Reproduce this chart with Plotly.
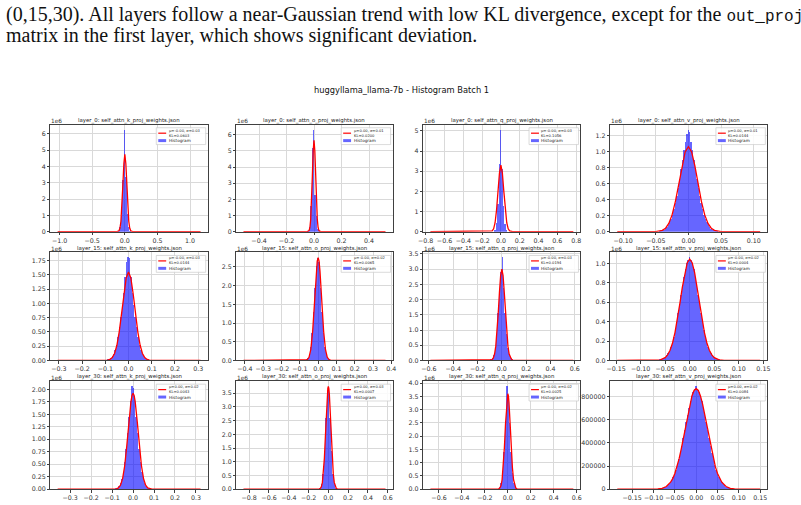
import plotly.graph_objects as go

W, H = 801, 505

# ---------------- text ----------------
intro_line1 = "(0,15,30). All layers follow a near-Gaussian trend with low KL divergence, except for the "
intro_code = "out_proj"
intro_line2 = "matrix in the first layer, which shows significant deviation."
suptitle = "huggyllama_llama-7b - Histogram Batch 1"

titles = [
    "layer_0: self_attn_k_proj_weights.json", "layer_0: self_attn_o_proj_weights.json",
    "layer_0: self_attn_q_proj_weights.json", "layer_0: self_attn_v_proj_weights.json",
    "layer_15: self_attn_k_proj_weights.json", "layer_15: self_attn_o_proj_weights.json",
    "layer_15: self_attn_q_proj_weights.json", "layer_15: self_attn_v_proj_weights.json",
    "layer_30: self_attn_k_proj_weights.json", "layer_30: self_attn_o_proj_weights.json",
    "layer_30: self_attn_q_proj_weights.json", "layer_30: self_attn_v_proj_weights.json",
]
fit_stats = ["μ=-0.00, σ=0.03", "μ=0.00, σ=0.01", "μ=-0.00, σ=0.03", "μ=0.00, σ=0.01",
             "μ=-0.00, σ=0.03", "μ=-0.00, σ=0.02", "μ=-0.00, σ=0.03", "μ=-0.00, σ=0.02",
             "μ=0.00, σ=0.02", "μ=0.00, σ=0.03", "μ=-0.00, σ=0.02", "μ=0.00, σ=0.02"]
fit_kl = ["KL=0.0603", "KL=0.0200", "KL=0.1056", "KL=0.0144",
          "KL=0.0144", "KL=0.0065", "KL=0.0194", "KL=0.0004",
          "KL=0.0043", "KL=0.0007", "KL=0.0025", "KL=0.0084"]

# ---------------- data (counts in millions) ----------------
# layer_0 k
l0k_range = [-1.03, 1.16]
l0k_bin = 0.022
l0k_start = -0.088
l0k_counts = [0.05, 0.3, 1.0, 3.2, 6.25, 3.4, 1.1, 0.3, 0.05]
l0k_fit_x = [-1.03, -0.12, -0.09, -0.075, -0.06, -0.045, -0.03, -0.015, 0.0, 0.015, 0.03, 0.045, 0.06, 0.075, 0.09, 0.12, 1.16]
l0k_fit_y = [0, 0.005, 0.053, 0.21, 0.64, 1.54, 2.88, 4.19, 4.75, 4.19, 2.88, 1.54, 0.64, 0.21, 0.053, 0.005, 0]
# layer_0 o
l0o_range = [-0.513, 0.52]
l0o_bin = 0.0103
l0o_start = -0.0412
l0o_counts = [0.05, 0.3, 1.6, 5.2, 6.3, 2.3, 1.0, 0.2, 0.05]
l0o_fit_x = [-0.513, -0.048, -0.036, -0.03, -0.024, -0.018, -0.012, -0.006, 0.0, 0.006, 0.012, 0.018, 0.024, 0.03, 0.036, 0.048, 0.52]
l0o_fit_y = [0, 0.002, 0.063, 0.248, 0.76, 1.83, 3.43, 4.99, 5.65, 4.99, 3.43, 1.83, 0.76, 0.248, 0.063, 0.002, 0]
# layer_0 q
l0q_range = [-0.75, 0.77]
l0q_bin = 0.0152
l0q_start = -0.076
l0q_counts = [0.02, 0.1, 0.45, 1.4, 3.35, 5.05, 3.1, 1.3, 0.4, 0.1, 0.02]
l0q_fit_x = [-0.75, -0.124, -0.093, -0.0775, -0.062, -0.0465, -0.031, -0.0155, 0.0, 0.0155, 0.031, 0.0465, 0.062, 0.0775, 0.093, 0.124, 0.77]
l0q_fit_y = [0, 0.001, 0.037, 0.145, 0.446, 1.07, 2.0, 2.91, 3.3, 2.91, 2.0, 1.07, 0.446, 0.145, 0.037, 0.001, 0]
# layer_0 v
l0v_range = [-0.109, 0.110]
l0v_bin = 0.00219
l0v_start = -0.04599
l0v_counts = [0.004, 0.007, 0.011, 0.018, 0.028, 0.042, 0.06, 0.085, 0.12, 0.16, 0.21, 0.28, 0.36, 0.45,
              0.55, 0.66, 0.78, 0.90, 1.02, 1.12, 1.22, 1.27, 1.25, 1.12, 1.02, 0.90, 0.78, 0.66, 0.55,
              0.45, 0.36, 0.28, 0.21, 0.16, 0.12, 0.085, 0.06, 0.042, 0.028, 0.018, 0.011, 0.007, 0.004]
l0v_fit_x = [-0.109, -0.05, -0.04, -0.035, -0.03, -0.025, -0.02, -0.015, -0.01, -0.005, 0.0,
             0.005, 0.01, 0.015, 0.02, 0.025, 0.03, 0.035, 0.04, 0.05, 0.110]
l0v_fit_y = [0, 0.0016, 0.017, 0.044, 0.103, 0.21, 0.376, 0.592, 0.818, 0.994, 1.06,
             0.994, 0.818, 0.592, 0.376, 0.21, 0.103, 0.044, 0.017, 0.0016, 0]
# layer_15 k
l15k_range = [-0.305, 0.31]
l15k_bin = 0.00615
l15k_start = -0.09225
l15k_counts = [0.004, 0.008, 0.019, 0.035, 0.062, 0.105, 0.17, 0.27, 0.40, 0.57, 0.75, 0.97, 1.18, 1.45, 1.72,
               1.80, 1.78, 1.45, 1.18, 0.97, 0.75, 0.57, 0.40, 0.27, 0.17, 0.105, 0.062, 0.035, 0.019, 0.008, 0.004]
l15k_fit_x = [-0.305, -0.1, -0.09, -0.08, -0.07, -0.06, -0.05, -0.04, -0.03, -0.02, -0.01, 0.0,
              0.01, 0.02, 0.03, 0.04, 0.05, 0.06, 0.07, 0.08, 0.09, 0.1, 0.31]
l15k_fit_y = [0, 0.001, 0.005, 0.017, 0.049, 0.122, 0.265, 0.500, 0.821, 1.168, 1.444, 1.55,
              1.444, 1.168, 0.821, 0.500, 0.265, 0.122, 0.049, 0.017, 0.005, 0.001, 0]
# layer_15 o
l15o_range = [-0.408, 0.368]
l15o_bin = 0.00776
l15o_start = -0.06984
l15o_counts = [0.005, 0.015, 0.05, 0.14, 0.34, 0.71, 1.27, 1.92, 2.5, 2.72, 2.62, 1.92, 1.27, 0.71, 0.34, 0.14, 0.05, 0.015, 0.005]
l15o_fit_x = [-0.408, -0.07, -0.06, -0.05, -0.04, -0.03, -0.02, -0.01, -0.005, 0.0, 0.005, 0.01, 0.02, 0.03, 0.04, 0.05, 0.06, 0.07, 0.368]
l15o_fit_y = [0, 0.003, 0.018, 0.083, 0.293, 0.78, 1.57, 2.39, 2.655, 2.75, 2.655, 2.39, 1.57, 0.78, 0.293, 0.083, 0.018, 0.003, 0]
# layer_15 q
l15q_range = [-0.588, 0.588]
l15q_bin = 0.01165
l15q_start = -0.099
l15q_counts = [0.005, 0.015, 0.05, 0.16, 0.40, 0.85, 1.55, 2.3, 2.88, 3.38, 2.35, 1.55, 0.85, 0.40, 0.16, 0.05, 0.015, 0.005]
l15q_fit_x = [-0.588, -0.1, -0.09, -0.08, -0.07, -0.06, -0.05, -0.04, -0.03, -0.02, -0.01, 0.0,
              0.01, 0.02, 0.03, 0.04, 0.05, 0.06, 0.07, 0.08, 0.09, 0.1, 0.588]
l15q_fit_y = [0, 0.002, 0.0075, 0.026, 0.080, 0.209, 0.47, 0.92, 1.54, 2.23, 2.79, 3.0,
              2.79, 2.23, 1.54, 0.92, 0.47, 0.209, 0.080, 0.026, 0.0075, 0.002, 0]
# layer_15 v
l15v_range = [-0.1475, 0.1435]
l15v_bin = 0.00291
l15v_start = -0.06984
l15v_counts = [0.001, 0.002, 0.003, 0.005, 0.008, 0.013, 0.020, 0.031, 0.046, 0.068, 0.096, 0.134, 0.181, 0.240,
               0.310, 0.390, 0.480, 0.576, 0.674, 0.771, 0.860, 0.937, 0.995, 1.033, 1.06, 1.033, 0.995, 0.937,
               0.860, 0.771, 0.674, 0.576, 0.480, 0.390, 0.310, 0.240, 0.181, 0.134, 0.096, 0.068, 0.046, 0.031,
               0.020, 0.013, 0.008, 0.005, 0.003, 0.002, 0.001]
l15v_fit_x = [-0.1475, -0.07, -0.06, -0.05, -0.045, -0.04, -0.035, -0.03, -0.025, -0.02, -0.015, -0.01, -0.005, 0.0,
              0.005, 0.01, 0.015, 0.02, 0.025, 0.03, 0.035, 0.04, 0.045, 0.05, 0.06, 0.07, 0.1435]
l15v_fit_y = [0, 0.001, 0.006, 0.029, 0.057, 0.105, 0.180, 0.287, 0.426, 0.588, 0.756, 0.905, 1.008, 1.045,
              1.008, 0.905, 0.756, 0.588, 0.426, 0.287, 0.180, 0.105, 0.057, 0.029, 0.006, 0.001, 0]
# layer_30 k
l30k_range = [-0.36, 0.322]
l30k_bin = 0.00682
l30k_start = -0.09207
l30k_counts = [0.002, 0.005, 0.012, 0.026, 0.055, 0.11, 0.20, 0.34, 0.54, 0.80, 1.12, 1.45, 1.76, 2.06,
               2.02, 1.80, 1.45, 1.12, 0.80, 0.54, 0.34, 0.20, 0.11, 0.055, 0.026, 0.012, 0.005, 0.002]
l30k_fit_x = [-0.36, -0.09, -0.08, -0.07, -0.06, -0.05, -0.04, -0.03, -0.02, -0.01, -0.005, 0.0,
              0.005, 0.01, 0.02, 0.03, 0.04, 0.05, 0.06, 0.07, 0.08, 0.09, 0.322]
l30k_fit_y = [0, 0.0015, 0.0067, 0.025, 0.080, 0.211, 0.468, 0.868, 1.349, 1.758, 1.878, 1.92,
              1.878, 1.758, 1.349, 0.868, 0.468, 0.211, 0.080, 0.025, 0.0067, 0.0015, 0]
# layer_30 o
l30o_range = [-0.858, 0.578]
l30o_bin = 0.01436
l30o_start = -0.09334
l30o_counts = [0.008, 0.04, 0.17, 0.55, 1.40, 2.6, 3.62, 3.70, 2.6, 1.40, 0.55, 0.17, 0.04, 0.008]
l30o_fit_x = [-0.858, -0.1, -0.09, -0.08, -0.07, -0.06, -0.05, -0.04, -0.03, -0.02, -0.01, -0.005, 0.0,
              0.005, 0.01, 0.02, 0.03, 0.04, 0.05, 0.06, 0.07, 0.08, 0.09, 0.1, 0.578]
l30o_fit_y = [0, 0.002, 0.008, 0.030, 0.092, 0.246, 0.565, 1.12, 1.90, 2.77, 3.48, 3.68, 3.75,
              3.68, 3.48, 2.77, 1.90, 1.12, 0.565, 0.246, 0.092, 0.030, 0.008, 0.002, 0]
# layer_30 q
l30q_range = [-0.675, 0.571]
l30q_bin = 0.01245
l30q_start = -0.093375
l30q_counts = [0.004, 0.015, 0.06, 0.21, 0.60, 1.40, 2.5, 3.88, 3.5, 2.5, 1.40, 0.60, 0.21, 0.06, 0.015, 0.004]
l30q_fit_x = [-0.675, -0.09, -0.08, -0.07, -0.06, -0.05, -0.04, -0.03, -0.02, -0.01, -0.005, 0.0,
              0.005, 0.01, 0.02, 0.03, 0.04, 0.05, 0.06, 0.07, 0.08, 0.09, 0.571]
l30q_fit_y = [0, 0.002, 0.0094, 0.038, 0.127, 0.353, 0.814, 1.56, 2.48, 3.28, 3.52, 3.6,
              3.52, 3.28, 2.48, 1.56, 0.814, 0.353, 0.127, 0.038, 0.0094, 0.002, 0]
# layer_30 v
l30v_range = [-0.185, 0.15]
l30v_bin = 0.00336
l30v_start = -0.09408
l30v_counts = [0.001, 0.0018, 0.0028, 0.0044, 0.0067, 0.010, 0.015, 0.021, 0.030, 0.042, 0.057, 0.077, 0.101, 0.131,
               0.167, 0.210, 0.259, 0.314, 0.375, 0.440, 0.508, 0.576, 0.643, 0.705, 0.760, 0.807, 0.841, 0.863,
               0.89,
               0.863, 0.841, 0.807, 0.760, 0.705, 0.643, 0.576, 0.508, 0.440, 0.375, 0.314, 0.259, 0.210, 0.167,
               0.131, 0.101, 0.077, 0.057, 0.042, 0.030, 0.021, 0.015, 0.010, 0.0067, 0.0044, 0.0028, 0.0018, 0.001]
l30v_fit_x = [-0.185, -0.1, -0.09, -0.08, -0.07, -0.06, -0.055, -0.05, -0.045, -0.04, -0.035, -0.03, -0.025, -0.02,
              -0.015, -0.01, -0.005, 0.0, 0.005, 0.01, 0.015, 0.02, 0.025, 0.03, 0.035, 0.04, 0.045, 0.05, 0.055,
              0.06, 0.07, 0.08, 0.09, 0.1, 0.15]
l30v_fit_y = [0, 0.0006, 0.002, 0.0074, 0.0226, 0.060, 0.091, 0.135, 0.192, 0.264, 0.349, 0.445, 0.546, 0.646,
              0.736, 0.807, 0.854, 0.87, 0.854, 0.807, 0.736, 0.646, 0.546, 0.445, 0.349, 0.264, 0.192, 0.135, 0.091,
              0.060, 0.0226, 0.0074, 0.002, 0.0006, 0]

# ---------------- tick labels ----------------
xt_1p0 = [-1.0, -0.5, 0.0, 0.5, 1.0]; xl_1p0 = ["−1.0", "−0.5", "0.0", "0.5", "1.0"]
xt_0p4 = [-0.4, -0.2, 0.0, 0.2, 0.4]; xl_0p4 = ["−0.4", "−0.2", "0.0", "0.2", "0.4"]
xt_0p8 = [-0.8, -0.6, -0.4, -0.2, 0.0, 0.2, 0.4, 0.6, 0.8]
xl_0p8 = ["−0.8", "−0.6", "−0.4", "−0.2", "0.0", "0.2", "0.4", "0.6", "0.8"]
xt_0p10 = [-0.10, -0.05, 0.0, 0.05, 0.10]; xl_0p10 = ["−0.10", "−0.05", "0.00", "0.05", "0.10"]
xt_0p3 = [-0.3, -0.2, -0.1, 0.0, 0.1, 0.2, 0.3]; xl_0p3 = ["−0.3", "−0.2", "−0.1", "0.0", "0.1", "0.2", "0.3"]
xt_0p4b = [-0.4, -0.3, -0.2, -0.1, 0.0, 0.1, 0.2, 0.3, 0.4]
xl_0p4b = ["−0.4", "−0.3", "−0.2", "−0.1", "0.0", "0.1", "0.2", "0.3", "0.4"]
xt_0p6 = [-0.6, -0.4, -0.2, 0.0, 0.2, 0.4, 0.6]; xl_0p6 = ["−0.6", "−0.4", "−0.2", "0.0", "0.2", "0.4", "0.6"]
xt_0p15 = [-0.15, -0.10, -0.05, 0.0, 0.05, 0.10, 0.15]
xl_0p15 = ["−0.15", "−0.10", "−0.05", "0.00", "0.05", "0.10", "0.15"]
xt_0p8b = [-0.8, -0.6, -0.4, -0.2, 0.0, 0.2, 0.4, 0.6]
xl_0p8b = ["−0.8", "−0.6", "−0.4", "−0.2", "0.0", "0.2", "0.4", "0.6"]

yt_int6 = [0, 1, 2, 3, 4, 5, 6]; yl_int6 = ["0", "1", "2", "3", "4", "5", "6"]
yt_int5 = [0, 1, 2, 3, 4, 5]; yl_int5 = ["0", "1", "2", "3", "4", "5"]
yt_1p2 = [0, 0.2, 0.4, 0.6, 0.8, 1.0, 1.2]; yl_1p2 = ["0.0", "0.2", "0.4", "0.6", "0.8", "1.0", "1.2"]
yt_1p75 = [0, 0.25, 0.5, 0.75, 1.0, 1.25, 1.5, 1.75]
yl_1p75 = ["0.00", "0.25", "0.50", "0.75", "1.00", "1.25", "1.50", "1.75"]
yt_2p5 = [0, 0.5, 1.0, 1.5, 2.0, 2.5]; yl_2p5 = ["0.0", "0.5", "1.0", "1.5", "2.0", "2.5"]
yt_3p5 = [0, 0.5, 1.0, 1.5, 2.0, 2.5, 3.0, 3.5]; yl_3p5 = ["0.0", "0.5", "1.0", "1.5", "2.0", "2.5", "3.0", "3.5"]
yt_1p0 = [0, 0.2, 0.4, 0.6, 0.8, 1.0]; yl_1p0 = ["0.0", "0.2", "0.4", "0.6", "0.8", "1.0"]
yt_2p0 = [0, 0.25, 0.5, 0.75, 1.0, 1.25, 1.5, 1.75, 2.0]
yl_2p0 = ["0.00", "0.25", "0.50", "0.75", "1.00", "1.25", "1.50", "1.75", "2.00"]
yt_4p0 = [0, 0.5, 1.0, 1.5, 2.0, 2.5, 3.0, 3.5, 4.0]
yl_4p0 = ["0.0", "0.5", "1.0", "1.5", "2.0", "2.5", "3.0", "3.5", "4.0"]
yt_raw = [0, 0.2, 0.4, 0.6, 0.8]; yl_raw = ["0", "200000", "400000", "600000", "800000"]

panels = [
    (l0k_range, l0k_bin, l0k_start, l0k_counts, l0k_fit_x, l0k_fit_y, xt_1p0, xl_1p0, yt_int6, yl_int6, True),
    (l0o_range, l0o_bin, l0o_start, l0o_counts, l0o_fit_x, l0o_fit_y, xt_0p4, xl_0p4, yt_int6, yl_int6, True),
    (l0q_range, l0q_bin, l0q_start, l0q_counts, l0q_fit_x, l0q_fit_y, xt_0p8, xl_0p8, yt_int5, yl_int5, True),
    (l0v_range, l0v_bin, l0v_start, l0v_counts, l0v_fit_x, l0v_fit_y, xt_0p10, xl_0p10, yt_1p2, yl_1p2, True),
    (l15k_range, l15k_bin, l15k_start, l15k_counts, l15k_fit_x, l15k_fit_y, xt_0p3, xl_0p3, yt_1p75, yl_1p75, True),
    (l15o_range, l15o_bin, l15o_start, l15o_counts, l15o_fit_x, l15o_fit_y, xt_0p4b, xl_0p4b, yt_2p5, yl_2p5, True),
    (l15q_range, l15q_bin, l15q_start, l15q_counts, l15q_fit_x, l15q_fit_y, xt_0p6, xl_0p6, yt_3p5, yl_3p5, True),
    (l15v_range, l15v_bin, l15v_start, l15v_counts, l15v_fit_x, l15v_fit_y, xt_0p15, xl_0p15, yt_1p0, yl_1p0, True),
    (l30k_range, l30k_bin, l30k_start, l30k_counts, l30k_fit_x, l30k_fit_y, xt_0p3, xl_0p3, yt_2p0, yl_2p0, True),
    (l30o_range, l30o_bin, l30o_start, l30o_counts, l30o_fit_x, l30o_fit_y, xt_0p8b, xl_0p8b, yt_3p5, yl_3p5, True),
    (l30q_range, l30q_bin, l30q_start, l30q_counts, l30q_fit_x, l30q_fit_y, xt_0p6, xl_0p6, yt_4p0, yl_4p0, True),
    (l30v_range, l30v_bin, l30v_start, l30v_counts, l30v_fit_x, l30v_fit_y, xt_0p15, xl_0p15, yt_raw, yl_raw, False),
]

# ---------------- layout geometry (pixels) ----------------
col_px = [(46, 205), (234, 392), (423, 582), (612, 771)]
row_px = [(124, 232), (253, 362), (383, 492)]

def px(x):
    return x / W

def py(y):
    return 1 - y / H

FONT = "DejaVu Sans"
fig = go.Figure()
layout = dict(
    width=W, height=H, margin=dict(l=0, r=0, t=0, b=0),
    paper_bgcolor="white", plot_bgcolor="white", showlegend=False,
    font=dict(family=FONT, color="#222"),
)
annotations = []
shapes = []

for i, (rng, bw, start, counts, fx, fy, xt, xl, yt, yl, show_exp) in enumerate(panels):
    r, c = divmod(i, 4)
    L, R = col_px[c]
    T, B = row_px[r]
    sfx = "" if i == 0 else str(i + 1)
    xref, yref = "x" + sfx, "y" + sfx
    a, b = rng
    pad = 0.05 * (b - a)
    ymax = max(max(counts), max(fy)) * 1.05
    axis_common = dict(
        showline=True, linecolor="#404040", linewidth=0.9, mirror=True,
        ticks="outside", ticklen=2.5, tickwidth=0.8, tickcolor="#404040",
        showgrid=True, gridcolor="#d9d9d9", gridwidth=0.8, zeroline=False,
        tickfont=dict(size=6.3, family=FONT, color="#333"),
    )
    layout["xaxis" + sfx] = dict(axis_common, domain=[px(L), px(R)], anchor=yref,
                                 range=[a - pad, b + pad], tickmode="array", tickvals=xt, ticktext=xl)
    layout["yaxis" + sfx] = dict(axis_common, domain=[py(B), py(T)], anchor=xref,
                                 range=[0, ymax], tickmode="array", tickvals=yt, ticktext=yl)
    fig.add_trace(go.Bar(x0=start, dx=bw, y=counts, width=bw, xaxis=xref, yaxis=yref,
                         marker=dict(color="rgba(0,0,255,0.6)", line=dict(width=0))))
    fig.add_trace(go.Scatter(x=fx, y=fy, mode="lines", xaxis=xref, yaxis=yref,
                             line=dict(color="red", width=1.3)))
    # subplot title
    annotations.append(dict(text=titles[i], x=px((L + R) / 2), y=py(T - 4.5), xref="paper", yref="paper",
                            showarrow=False, xanchor="center", yanchor="middle",
                            font=dict(size=5.4, family=FONT, color="#222")))
    if show_exp:
        annotations.append(dict(text="1e6", x=px(L - 1), y=py(T - 3.5), xref="paper", yref="paper",
                                showarrow=False, xanchor="left", yanchor="middle",
                                font=dict(size=5.8, family=FONT, color="#333")))
    # legend box
    bx0, bx1, by0, by1 = R - 52, R - 2, T + 3, T + 20
    shapes.append(dict(type="rect", xref="paper", yref="paper", x0=px(bx0), x1=px(bx1), y0=py(by1), y1=py(by0),
                       fillcolor="rgba(255,255,255,0.85)", line=dict(color="#cccccc", width=0.7)))
    shapes.append(dict(type="line", xref="paper", yref="paper", x0=px(bx0 + 2), x1=px(bx0 + 10),
                       y0=py(T + 8.5), y1=py(T + 8.5), line=dict(color="red", width=1.2)))
    shapes.append(dict(type="rect", xref="paper", yref="paper", x0=px(bx0 + 2), x1=px(bx0 + 10),
                       y0=py(T + 17.5), y1=py(T + 14.5), fillcolor="rgba(0,0,255,0.6)", line=dict(width=0)))
    annotations.append(dict(text=fit_stats[i] + "<br>" + fit_kl[i], x=px(bx0 + 11.5), y=py(T + 8.5),
                            xref="paper", yref="paper", showarrow=False, xanchor="left", yanchor="middle",
                            align="left", borderpad=0, font=dict(size=3.7, family=FONT, color="#222")))
    annotations.append(dict(text="Histogram", x=px(bx0 + 11.5), y=py(T + 16), xref="paper", yref="paper",
                            showarrow=False, xanchor="left", yanchor="middle", borderpad=0,
                            font=dict(size=4.2, family=FONT, color="#222")))

# figure title and surrounding paper text
annotations.append(dict(text=suptitle, x=px(401), y=py(89), xref="paper", yref="paper", showarrow=False,
                        xanchor="center", yanchor="middle", font=dict(size=8.3, family=FONT, color="#111")))
annotations.append(dict(text=intro_line1 + "<span style=\"font-family:'Liberation Mono';font-size:16px\">"
                        + intro_code + "</span>",
                        x=px(0), y=py(13), xref="paper", yref="paper", showarrow=False,
                        xanchor="left", yanchor="middle", borderpad=0,
                        font=dict(size=20, family="Liberation Serif", color="#111")))
annotations.append(dict(text=intro_line2, x=px(0), y=py(33.5), xref="paper", yref="paper", showarrow=False,
                        xanchor="left", yanchor="middle", borderpad=0,
                        font=dict(size=20, family="Liberation Serif", color="#111")))

layout["annotations"] = annotations
layout["shapes"] = shapes
layout["bargap"] = 0
fig.update_layout(**layout)
fig.write_html("out.html")
